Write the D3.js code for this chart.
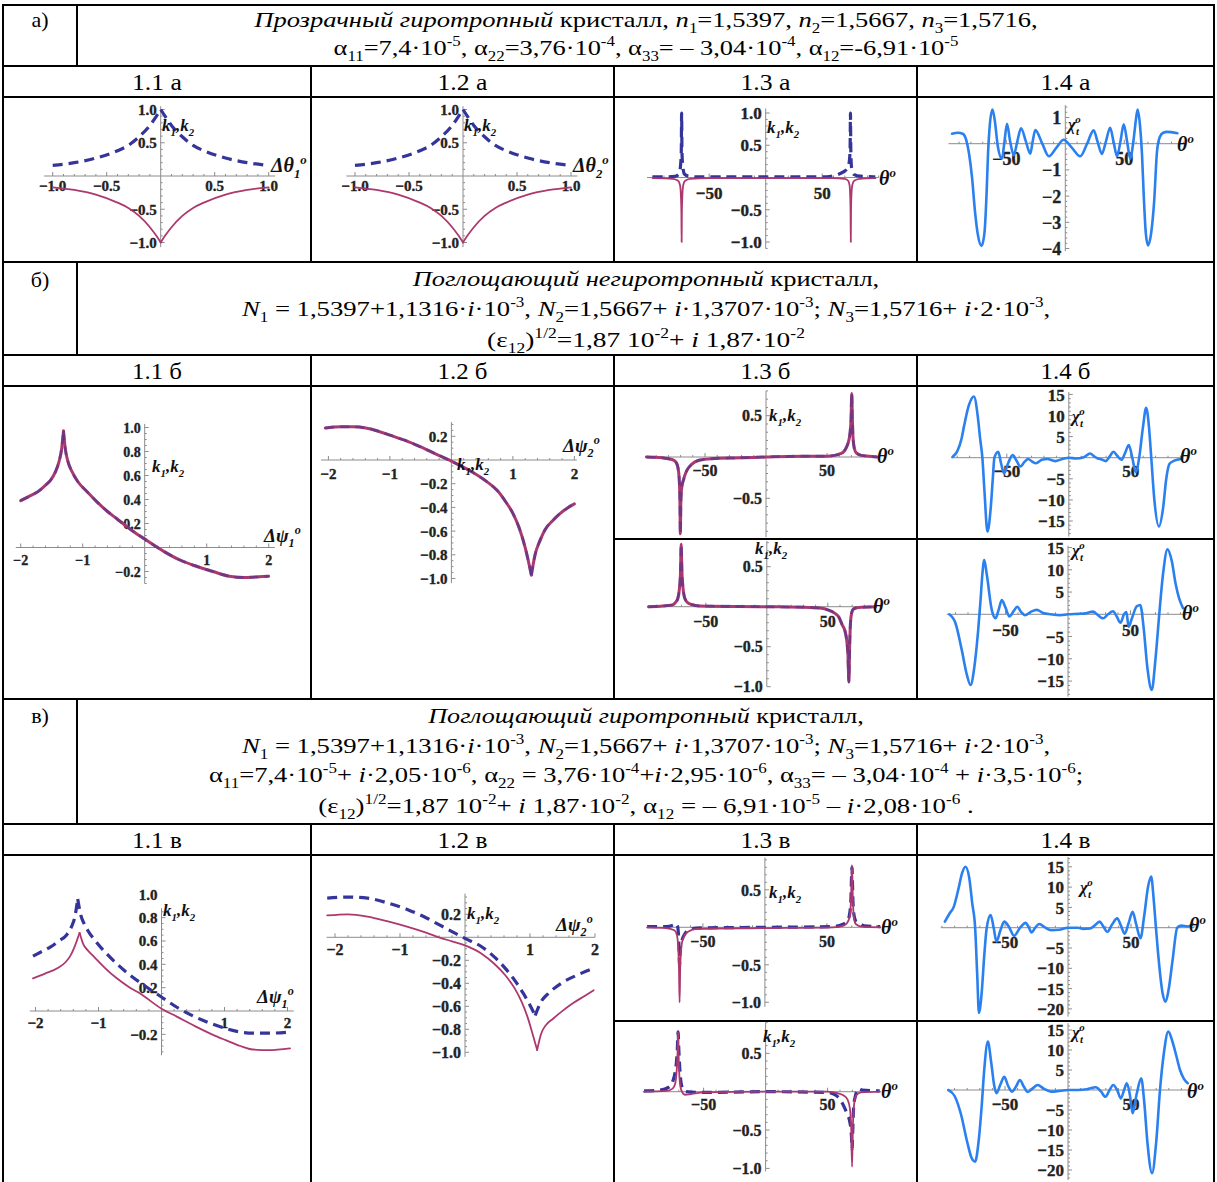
<!DOCTYPE html>
<html><head><meta charset="utf-8">
<script src="https://cdn.jsdelivr.net/npm/d3@7"></script>
<style>body{margin:0;background:#fff}svg{display:block}text{font-family:"Liberation Serif","Times New Roman",serif;white-space:pre}</style>
</head><body><script>
// ---------------- DATA ----------------
const rowLabels = ['а)', 'б)', 'в)'];
const colLabels = [['1.1 а','1.2 а','1.3 а','1.4 а'],['1.1 б','1.2 б','1.3 б','1.4 б'],['1.1 в','1.2 в','1.3 в','1.4 в']];
const headA = ['*Прозрачный гиротропный* кристалл, *n*_{1}=1,5397, *n*_{2}=1,5667, *n*_{3}=1,5716,',
  'α_{11}=7,4·10^{-5}, α_{22}=3,76·10^{-4}, α_{33}= – 3,04·10^{-4}, α_{12}=-6,91·10^{-5}'];
const headB = ['*Поглощающий негиротропный* кристалл,',
  '*N*_{1} = 1,5397+1,1316·*i*·10^{-3}, *N*_{2}=1,5667+ *i*·1,3707·10^{-3}; *N*_{3}=1,5716+ *i*·2·10^{-3},',
  '(ε_{12})^{1/2}=1,87 10^{-2}+ *i* 1,87·10^{-2}'];
const headV = ['*Поглощающий гиротропный* кристалл,',
  '*N*_{1} = 1,5397+1,1316·*i*·10^{-3}, *N*_{2}=1,5667+ *i*·1,3707·10^{-3}; *N*_{3}=1,5716+ *i*·2·10^{-3},',
  'α_{11}=7,4·10^{-5}+ *i*·2,05·10^{-6}, α_{22} = 3,76·10^{-4}+*i*·2,95·10^{-6}, α_{33}= – 3,04·10^{-4} + *i*·3,5·10^{-6};',
  '(ε_{12})^{1/2}=1,87 10^{-2}+ *i* 1,87·10^{-2}, α_{12} = – 6,91·10^{-5} – *i*·2,08·10^{-6} .'];

const ticksA = [-1, -0.5, 0.5, 1];
const ticksDeg = [-50, 50];
const ticksPsi = [-2, -1, 1, 2];
const ticksChiA = [-4, -3, -2, -1, 1];
const ticksChi15 = [-15, -10, -5, 5, 10, 15];
const ticksChi20 = [-20, -15, -10, -5, 5, 10, 15];
const ticksK11 = [-0.2, 0.2, 0.4, 0.6, 0.8, 1.0];
const ticksK12 = [-1, -0.8, -0.6, -0.4, -0.2, 0.2];
const ticksK13top = [-0.5, 0.5];
const ticksK13 = [-1, -0.5, 0.5];

// 1.1 а / 1.2 а
const k1_11a = [
 [[-1,0.16],[-0.8,0.2],[-0.6,0.27],[-0.4,0.38],[-0.3,0.46],[-0.2,0.59],[-0.1,0.76],[-0.04,0.9],[0,1.0]],
 [[0,1.0],[0.04,0.9],[0.1,0.76],[0.2,0.59],[0.3,0.46],[0.4,0.38],[0.6,0.27],[0.8,0.2],[1,0.16]]];
const k2_11a = [
 [[-1,-0.17],[-0.8,-0.21],[-0.6,-0.28],[-0.4,-0.4],[-0.3,-0.48],[-0.2,-0.6],[-0.1,-0.77],[-0.04,-0.9],[0,-1.0]],
 [[0,-1.0],[0.04,-0.9],[0.1,-0.77],[0.2,-0.6],[0.3,-0.48],[0.4,-0.4],[0.6,-0.28],[0.8,-0.21],[1,-0.17]]];
// 1.3 а
const k1_13a = [[-100,0.01],[-88,0.01],[-80,0.02],[-77,0.05],[-75.8,0.12],[-75.2,0.22],[-74.7,0.4],[-74.4,1.0],[-74.1,0.4],[-73.6,0.22],[-73,0.12],[-71.8,0.05],[-68,0.02],[-60,0.01],[0,0.01],[50,0.01],[58,0.02],[63,0.04],[67,0.07],[70,0.1],[72.5,0.15],[74,0.25],[74.7,0.45],[75,1.0],[75.3,0.45],[76,0.15],[78,0.05],[84,0.02],[97,0.01]];
const k2_13a = [[-100,-0.01],[-82,-0.02],[-77.5,-0.05],[-75.8,-0.12],[-75,-0.3],[-74.6,-0.55],[-74.4,-1.0],[-74.2,-0.55],[-73.8,-0.3],[-73,-0.12],[-71.3,-0.05],[-67,-0.02],[-50,-0.01],[0,-0.01],[60,-0.01],[70,-0.02],[73,-0.05],[74.2,-0.12],[74.8,-0.3],[75.1,-0.55],[75.3,-1.0],[75.5,-0.55],[75.8,-0.3],[76.6,-0.12],[78.3,-0.05],[83,-0.02],[97,-0.01]];
// 1.4 а
const chi_14a = [[-96,0.38],[-91,0.42],[-87,0.38],[-84,0.15],[-81.5,-0.4],[-79,-1.3],[-76.5,-2.6],[-74,-3.5],[-71,-3.9],[-68.5,-3.4],[-66.8,-2.0],[-65.5,-0.4],[-64,0.7],[-61.7,1.3],[-59.5,0.8],[-57.5,0],[-53.7,-0.57],[-51.5,0.1],[-49.4,0.76],[-46.8,0.1],[-43.7,-0.44],[-40.6,0.1],[-37.5,0.59],[-33.5,0.1],[-29.7,-0.38],[-27.6,0.1],[-25.4,0.52],[-19.5,0],[-14,-0.48],[-7.5,-0.15],[-1.4,0.15],[5.5,-0.15],[12.7,-0.48],[18.5,0],[24,0.51],[27.5,0.05],[31,-0.39],[34.5,0.1],[38,0.61],[41,0.05],[43.8,-0.48],[46.8,0.1],[49.5,0.74],[52.5,0.05],[55,-0.57],[58,0.2],[59.8,0.9],[61.3,1.3],[63.3,0.7],[65,-0.4],[66.5,-2.0],[68.2,-3.4],[70.1,-3.88],[72.8,-3.4],[75.3,-2.2],[77.7,-0.3],[80,0.25],[83,0.42],[86,0.45],[95,0.4]];
// 1.1 б (k1 and k2 coincide)
const k_11b = [
 [[-2,0.39],[-1.85,0.43],[-1.71,0.47],[-1.6,0.52],[-1.52,0.56],[-1.44,0.63],[-1.38,0.72],[-1.34,0.82],[-1.31,0.97]],
 [[-1.31,0.97],[-1.28,0.82],[-1.24,0.72],[-1.17,0.63],[-1.08,0.55],[-0.92,0.46],[-0.77,0.38],[-0.6,0.3],[-0.45,0.24],[-0.2,0.14],[0,0.07],[0.3,-0.03],[0.55,-0.1],[0.8,-0.15],[1.1,-0.2],[1.37,-0.24],[1.6,-0.25],[1.8,-0.245],[2,-0.24]]];
// 1.2 б
const k_12b = [
 [[-2.05,0.27],[-1.8,0.28],[-1.6,0.28],[-1.39,0.27],[-1.2,0.245],[-1.0,0.21],[-0.75,0.165],[-0.5,0.11],[-0.25,0.05],[0,-0.01],[0.3,-0.09],[0.57,-0.18],[0.75,-0.26],[0.88,-0.35],[1.0,-0.45],[1.1,-0.57],[1.2,-0.74],[1.3,-0.97]],
 [[1.3,-0.97],[1.36,-0.8],[1.44,-0.68],[1.52,-0.59],[1.65,-0.51],[1.77,-0.45],[1.9,-0.4],[2.0,-0.37]]];
// 1.3 б
const k_13b_top = [[-98,0],[-85,-0.01],[-77,-0.03],[-74,-0.06],[-72.3,-0.12],[-71.2,-0.25],[-70.6,-0.5],[-70.2,-0.93],[-69.8,-0.55],[-69,-0.36],[-67.5,-0.27],[-66,-0.2],[-64.4,-0.15],[-61,-0.09],[-55,-0.04],[-45,-0.02],[-20,-0.01],[0,0],[30,0.01],[50,0.01],[56,0.02],[61,0.04],[64,0.07],[66,0.12],[67.5,0.18],[68.8,0.28],[69.7,0.45],[70.3,0.77],[70.8,0.45],[71.5,0.2],[72.5,0.1],[74,0.05],[78,0.02],[85,0.01],[91,0]];
const k_13b_bot = [[-97,0],[-85,0.01],[-78,0.02],[-75,0.05],[-73,0.1],[-71.8,0.2],[-70.8,0.4],[-70.2,0.78],[-69.6,0.45],[-68.8,0.25],[-67.5,0.12],[-65.5,0.06],[-62,0.03],[-55,0.01],[0,0],[35,-0.01],[45,-0.02],[50,-0.04],[55.5,-0.08],[59,-0.13],[61.9,-0.23],[64,-0.3],[65.5,-0.42],[66.5,-0.6],[67.3,-0.94],[67.9,-0.5],[68.6,-0.2],[69.5,-0.08],[71,-0.03],[75,-0.01],[89,0]];
// 1.4 б
const chi_14b_top = [[-93.7,0.2],[-90,1.5],[-86.5,4.5],[-84.4,7.6],[-80.5,12.5],[-76.5,14.5],[-73.5,10],[-71.5,4.5],[-69.7,0],[-68,-8],[-65.6,-17.5],[-63,-12],[-61.3,-5],[-60,0],[-56.9,1.4],[-54.5,-1.5],[-52.2,-3.7],[-48.8,-1.2],[-45.3,0.6],[-42,-0.8],[-39,-2.1],[-35.8,-1.0],[-32.8,-0.3],[-29.6,-0.9],[-26.5,-1.3],[-21.8,-0.5],[-17.2,-0.3],[-11,-0.8],[-5,-0.3],[0,0],[6,-0.2],[12,0.1],[17.2,1.0],[20.5,0.3],[23.4,-0.2],[26.5,-0.4],[29.7,-0.8],[33,0.3],[36,1.4],[39.2,0.4],[42.4,-0.5],[45.5,1.2],[48.4,3.0],[51.2,0],[54,-3.4],[57,0.5],[59.7,7],[62.4,11.8],[64.6,7.5],[66.5,0],[69,-10],[72.7,-16.3],[76,-12],[78.6,-5],[81.1,-1.5],[85,-0.7],[90.5,-0.3]];
const chi_14b_bot = [[-95,0],[-90,-2],[-85,-8],[-81,-13.5],[-78,-15.9],[-75,-12],[-72,-4],[-70,3],[-68.5,9],[-67,12.2],[-65,9],[-61,1],[-58,-0.9],[-55.5,1],[-53,3.2],[-50,1.5],[-46.9,-0.5],[-43.5,0.7],[-40.6,1.7],[-37.5,0.5],[-34.4,-0.2],[-29.5,0.6],[-25,1.0],[-20,0.3],[-14,0],[-6,-0.2],[0,0],[8,0.1],[14,0.2],[20,0.6],[24,-0.2],[28,-0.9],[32,0],[36,0.7],[39,-0.5],[42,-1.9],[44.8,0],[46.7,0.5],[48.5,-2.8],[51,-1],[55,1.8],[57.8,2.1],[60.5,-3],[63.5,-12],[67,-17],[70,-10],[73,0],[76,9],[79.6,14.6],[83,12],[86,7],[88.9,3.6],[92,1.4]];
// 1.1 в
const k1_11v = [
 [[-2.04,0.47],[-1.9,0.51],[-1.76,0.55],[-1.63,0.6],[-1.51,0.65],[-1.43,0.72],[-1.37,0.82],[-1.33,0.96]],
 [[-1.33,0.96],[-1.28,0.82],[-1.23,0.75],[-1.17,0.69],[-1.05,0.6],[-0.87,0.49],[-0.7,0.4],[-0.53,0.32],[-0.25,0.21],[0,0.12],[0.25,0.03],[0.53,-0.05],[0.8,-0.11],[1.02,-0.15],[1.25,-0.18],[1.45,-0.19],[1.7,-0.19],[2.04,-0.18]]];
const k2_11v = [
 [[-2.04,0.28],[-1.85,0.32],[-1.64,0.37],[-1.52,0.42],[-1.45,0.47],[-1.38,0.55],[-1.3,0.67]],
 [[-1.3,0.67],[-1.24,0.57],[-1.17,0.52],[-1.08,0.47],[-0.9,0.37],[-0.71,0.28],[-0.5,0.2],[-0.34,0.15],[0,0.02],[0.25,-0.05],[0.53,-0.13],[0.8,-0.2],[1.02,-0.25],[1.25,-0.3],[1.45,-0.33],[1.7,-0.335],[2.04,-0.32]]];
// 1.2 в
const k1_12v = [
 [[-2.12,0.34],[-1.8,0.35],[-1.5,0.34],[-1.2,0.3],[-0.88,0.24],[-0.6,0.17],[-0.4,0.11],[-0.2,0.05],[0,-0.01],[0.25,-0.08],[0.45,-0.17],[0.62,-0.27],[0.76,-0.37],[0.9,-0.49],[1.0,-0.59],[1.08,-0.68]],
 [[1.08,-0.68],[1.16,-0.57],[1.28,-0.49],[1.48,-0.4],[1.72,-0.33],[1.98,-0.27]]];
const k2_12v = [
 [[-2.12,0.19],[-1.8,0.2],[-1.5,0.18],[-1.2,0.14],[-0.88,0.09],[-0.6,0.04],[-0.4,0.0],[-0.2,-0.035],[0,-0.07],[0.25,-0.14],[0.45,-0.23],[0.62,-0.33],[0.76,-0.44],[0.87,-0.56],[0.96,-0.69],[1.04,-0.84],[1.11,-0.98]],
 [[1.11,-0.98],[1.17,-0.84],[1.25,-0.76],[1.35,-0.71],[1.5,-0.64],[1.67,-0.57],[1.84,-0.51],[1.98,-0.46]]];
// 1.3 в
const k1_13v_top = [[-95,0.01],[-80,0.01],[-74,0.03],[-72,0.05],[-70.5,0.02],[-69.7,-0.1],[-69.2,-0.3],[-68.8,-0.5],[-68.3,-0.3],[-67,-0.18],[-65,-0.1],[-62,-0.04],[-55,-0.01],[0,0],[55,0.01],[63,0.04],[66,0.08],[68,0.15],[69.3,0.35],[70.2,0.8],[71,0.35],[72,0.15],[73.5,0.08],[76,0.06],[80,0.02],[93,0.01]];
const k2_13v_top = [[-95,0],[-80,-0.01],[-73,-0.04],[-71,-0.1],[-70,-0.25],[-69.3,-0.55],[-68.8,-1.0],[-68.3,-0.55],[-67.3,-0.25],[-65.5,-0.13],[-62,-0.06],[-55,-0.02],[0,-0.01],[55,0],[63,0.02],[66,0.05],[68.5,0.15],[69.5,0.4],[70.2,0.83],[70.9,0.4],[71.8,0.12],[73.5,0.04],[78,0.01],[93,0]];
const k1_13v_bot = [[-98,0.01],[-85,0.02],[-78,0.06],[-75,0.13],[-73,0.25],[-72,0.37],[-71.2,0.55],[-70.6,0.78],[-70,0.55],[-69.2,0.3],[-68,0.1],[-66,0.02],[-64,0.0],[-55,-0.01],[0,0],[50,-0.01],[57,-0.05],[60,-0.1],[61.9,-0.15],[64,-0.22],[66,-0.3],[68,-0.4],[69.3,-0.6],[69.7,-0.75],[70.3,-0.5],[71,-0.2],[72.5,-0.05],[75,0.04],[78,0.02],[92,0.01]];
const k2_13v_bot = [[-98,0],[-80,0.01],[-75,0.04],[-73,0.1],[-71.8,0.25],[-71,0.5],[-70.6,0.78],[-70.1,0.45],[-69.3,0.15],[-68,0.02],[-65,-0.04],[-60,-0.03],[-50,-0.01],[0,0],[50,0],[58,-0.02],[63,-0.05],[66,-0.1],[68,-0.22],[69,-0.45],[69.7,-0.98],[70.4,-0.45],[71.5,-0.15],[73,-0.05],[77,-0.01],[92,0]];
// 1.4 в
const chi_14v_top = [[-97.7,1.5],[-94,3.5],[-90.6,5.2],[-87,9.5],[-84,13.5],[-81.4,15],[-78.5,12.5],[-76,6],[-73.7,0],[-72,-12],[-70.7,-21],[-68.5,-16],[-66.5,-7],[-64.5,0],[-61.4,3.1],[-59,0],[-56.8,-3.4],[-53.5,-0.5],[-50.6,1.5],[-46.5,0],[-42.9,-2.0],[-38,0],[-33.7,1.2],[-31,0],[-29,-1.2],[-26,0],[-22.9,0.9],[-18,0],[-13.5,-0.6],[-7,-0.5],[0,0],[8,0],[12,-0.3],[17.5,-0.2],[21,0.5],[25.2,1.5],[28,0.3],[31.3,-1.0],[35,0.8],[39,2.3],[42,0.5],[45,-1.5],[48,1],[51.3,3.9],[54,1],[57.5,-2.6],[60.5,3],[63.5,10],[66,12.6],[68,7],[69.8,0],[72,-8],[75,-16],[77.5,-18.2],[80,-15],[83,-8],[86.7,0],[90,0.5],[95,0.3],[99,0.9]];
const chi_14v_bot = [[-95,0],[-90,-1.5],[-85,-6],[-80,-13],[-76.5,-17],[-73.7,-17.9],[-71,-13],[-68.5,-4],[-66.5,5],[-63.6,12.1],[-61,7],[-58.5,1],[-56.8,-0.8],[-53.5,1.5],[-50.6,3.3],[-47.5,1],[-44.4,-0.4],[-41,1],[-38.2,2.5],[-35,0.8],[-32,-0.5],[-28,0.4],[-24.2,1.25],[-19,0.3],[-13.5,-0.4],[-6,-0.2],[0,0],[8,0],[15,0.2],[22,0.7],[26,-0.3],[29.7,-1.7],[33,0],[35.9,1.25],[39,0],[42,-2.1],[44.5,0],[46.7,1.7],[49,-1],[51.3,-5.8],[54.5,-1],[58.1,2.9],[60.5,-3],[63,-13],[66.7,-20.8],[70,-13],[73,0],[76,9],[79.6,14.6],[83,12],[86,8.5],[88.9,5],[92,2.8],[95,1.7]];

// ---------------- STYLES / LAYOUT ----------------
const DASH = '#34349a', SOLID = '#ad386e', BLUE = '#2b80f0', AXIS = '#8c8c8c';
const dashS = d => ({data:d, color:DASH, w:3.2, dash:'10,6'});
const solidS = d => ({data:d, color:SOLID, w:1.8});
const overlayS = d => [{data:d, color:SOLID, w:3}, {data:d, color:DASH, w:3, dash:'9,6', op:0.45}];
const blueS = d => ({data:d, color:BLUE, w:2.6});

const W = 1217, H = 1182;
const svg = d3.select('body').append('svg').attr('width', W).attr('height', H);

// rich text with *italic*, _{sub}, ^{sup}
function rich(parent, str, o) {
  const t = parent.append('text').attr('x', o.x).attr('y', o.y).attr('font-size', o.size)
    .attr('text-anchor', o.anchor || 'start').attr('fill', o.fill || '#000');
  if (o.bold) t.attr('font-weight', 'bold');
  const toks = []; let it = false;
  for (let i = 0; i < str.length;) {
    const c = str[i];
    if (c === '*') { it = !it; i++; continue; }
    if ((c === '_' || c === '^') && str[i + 1] === '{') {
      const j = str.indexOf('}', i);
      toks.push({t: str.slice(i + 2, j), it, pos: c === '_' ? 1 : -1, stack: o.stack && c === '^' && str[i - 1] === '}'});
      i = j + 1; continue;
    }
    const last = toks[toks.length - 1];
    if (last && last.pos === 0 && last.it === it) last.t += c; else toks.push({t: c, it, pos: 0});
    i++;
  }
  let cur = 0;
  toks.forEach(k => {
    const fs = k.pos ? o.size * 0.64 : o.size;
    const off = k.pos === 1 ? o.size * 0.28 : k.pos === -1 ? -o.size * 0.42 : 0;
    const ts = t.append('tspan').text(k.t).attr('font-size', fs).attr('dy', off - cur);
    if (k.it || o.italic) ts.attr('font-style', 'italic');
    if (k.stack) ts.attr('dx', -o.size * 0.22);
    cur = off;
  });
  return t;
}
function stretch(t, cx, target) {
  const bw = t.node().getBBox().width;
  const s = target / bw;
  t.attr('transform', `translate(${cx},0) scale(${s},1) translate(${-cx},0)`);
}

// ---------------- TABLE ----------------
const TL = 3, TR = 1214, CX = [3, 311, 614, 917, 1214];
const hFull = [5, 66, 97, 262, 355, 386, 699, 824, 855];
const hPart = [539, 1021];
const vSegs = [[77, 5, 66], [77, 262, 355], [77, 699, 824]];
[311, 614, 917].forEach(x => { vSegs.push([x, 66, 262], [x, 355, 699], [x, 824, 1182]); });
vSegs.push([TL, 5, 1182], [TR, 5, 1182]);
const grid = svg.append('g').attr('stroke', '#000').attr('stroke-width', 2);
grid.selectAll(null).data(hFull).join('line').attr('x1', TL - 1).attr('x2', TR + 1).attr('y1', d => d).attr('y2', d => d);
grid.selectAll(null).data(hPart).join('line').attr('x1', 614).attr('x2', TR + 1).attr('y1', d => d).attr('y2', d => d);
grid.selectAll(null).data(vSegs).join('line').attr('x1', d => d[0]).attr('x2', d => d[0]).attr('y1', d => d[1]).attr('y2', d => d[2]);

const hdr = svg.append('g');
const rowLabelY = [27, 287, 723];
rowLabels.forEach((s, i) => hdr.append('text').attr('x', 40).attr('y', rowLabelY[i]).attr('text-anchor', 'middle').attr('font-size', 22).text(s));
const colLabelY = [90, 379, 848];
colLabels.forEach((row, r) => row.forEach((s, c) => {
  const cx = (CX[c] + CX[c + 1]) / 2;
  const t = hdr.append('text').attr('x', cx).attr('y', colLabelY[r]).attr('text-anchor', 'middle').attr('font-size', 23).text(s);
  stretch(t, cx, 50);
}));

const headLines = [
  {s: headA[0], y: 27, w: 785}, {s: headA[1], y: 55, w: 625},
  {s: headB[0], y: 286, w: 468}, {s: headB[1], y: 316, w: 810}, {s: headB[2], y: 347, w: 318},
  {s: headV[0], y: 723, w: 437}, {s: headV[1], y: 753, w: 810}, {s: headV[2], y: 782, w: 875}, {s: headV[3], y: 813, w: 656}];
const HCX = 646;
headLines.forEach(h => stretch(rich(hdr, h.s, {x: HCX, y: h.y, size: 22, anchor: 'middle'}), HCX, h.w));

// ---------------- PLOTS ----------------
const kLab = 'k_{1},k_{2}', thLab = 'θ^{o}', chiLab = 'χ_{t}^{o}';
const plots = [
 {ax:160.7, ay:176, kx:108, ky:66.5, xExt:[-1.08,1.06], yExt:[-1.07,1.05], xT:ticksA, yT:ticksA, xm:0.1, ym:0.1, dx:1, dy:1, fs:15, xl:15,
  series:[dashS(k1_11a), solidS(k2_11a)], labels:[{s:kLab,x:162,y:131,size:17},{s:'Δθ_{1}^{o}',x:271,y:172,size:20}]},
 {ax:463, ay:176, kx:108, ky:66.5, xExt:[-1.08,1.06], yExt:[-1.07,1.05], xT:ticksA, yT:ticksA, xm:0.1, ym:0.1, dx:1, dy:1, fs:15, xl:15,
  series:[dashS(k1_11a), solidS(k2_11a)], labels:[{s:kLab,x:464,y:131,size:17},{s:'Δθ_{2}^{o}',x:573,y:172,size:20}]},
 {ax:765.7, ay:177.5, kx:1.13, ky:64.5, xExt:[-105,100], yExt:[-1.1,1.07], xT:ticksDeg, yT:ticksA, xm:10, ym:0.1, dx:0, dy:1, fs:17, xl:21,
  series:[dashS(k1_13a), solidS(k2_13a)], labels:[{s:kLab,x:767,y:133,size:17},{s:thLab,x:879,y:185,size:20}]},
 {ax:1065.3, ay:143.7, kx:1.18, ky:26.2, xExt:[-99,100], yExt:[-4.1,1.47], xT:ticksDeg, yT:ticksChiA, xm:10, ym:0.2, dx:0, dy:0, fs:18, xl:21,
  series:[blueS(chi_14a)], labels:[{s:chiLab,x:1068,y:130,size:17,stack:true},{s:thLab,x:1177,y:151,size:20}]},
 {ax:144.7, ay:547.5, kx:62, ky:120, xExt:[-2.08,2.1], yExt:[-0.3,1.03], xT:ticksPsi, yT:ticksK11, xm:0.2, ym:0.05, dx:0, dy:1, fs:14, xl:17,
  series:overlayS(k_11b), labels:[{s:kLab,x:152,y:472,size:17},{s:'Δψ_{1}^{o}',x:264,y:542,size:19}]},
 {ax:451.4, ay:460, kx:61.5, ky:118.5, xExt:[-2.12,2.04], yExt:[-1.04,0.32], xT:ticksPsi, yT:ticksK12, xm:0.2, ym:0.05, dx:0, dy:1, fs:15, xl:19,
  series:overlayS(k_12b), labels:[{s:kLab,x:457,y:470,size:17},{s:'Δψ_{2}^{o}',x:563,y:452,size:19}]},
 {ax:766, ay:457, kx:1.22, ky:82.6, xExt:[-98,91], yExt:[-0.97,0.8], xT:ticksDeg, yT:ticksK13top, xm:10, ym:0.1, dx:0, dy:1, fs:16, xl:19,
  series:overlayS(k_13b_top), labels:[{s:kLab,x:769,y:421,size:17},{s:thLab,x:877,y:463,size:20}]},
 {ax:766.8, ay:606.7, kx:1.22, ky:80, xExt:[-97.5,90], yExt:[-1.0,0.82], xT:ticksDeg, yT:ticksK13, xm:10, ym:0.1, dx:0, dy:1, fs:16, xl:20.5,
  series:overlayS(k_13b_bot), labels:[{s:kLab,x:755,y:554,size:17},{s:thLab,x:873,y:613,size:20}]},
 {ax:1068.8, ay:457.7, kx:1.24, ky:4.22, xExt:[-95,92], yExt:[-18.7,15.6], xT:ticksDeg, yT:ticksChi15, xm:10, ym:1, dx:0, dy:0, fs:17, xl:19.5,
  series:[blueS(chi_14b_top)], labels:[{s:chiLab,x:1072,y:422,size:17,stack:true},{s:thLab,x:1180,y:463,size:20}]},
 {ax:1068, ay:614.3, kx:1.25, ky:4.45, xExt:[-97,95], yExt:[-18.5,15.4], xT:ticksDeg, yT:ticksChi15, xm:10, ym:1, dx:0, dy:0, fs:17, xl:22,
  series:[blueS(chi_14b_bot)], labels:[{s:chiLab,x:1072,y:556,size:17,stack:true},{s:thLab,x:1182,y:620,size:20}]},
 {ax:161.5, ay:1011, kx:63, ky:116.7, xExt:[-2.09,2.1], yExt:[-0.38,0.88], xT:ticksPsi, yT:ticksK11, xm:0.2, ym:0.05, dx:0, dy:1, fs:15, xl:17,
  series:[dashS(k1_11v), solidS(k2_11v)], labels:[{s:kLab,x:163,y:916,size:17},{s:'Δψ_{1}^{o}',x:257,y:1003,size:19}]},
 {ax:465, ay:937.3, kx:65, ky:115, xExt:[-2.13,2.0], yExt:[-1.04,0.38], xT:ticksPsi, yT:ticksK12, xm:0.2, ym:0.05, dx:0, dy:1, fs:16, xl:17.5,
  series:[dashS(k1_12v), solidS(k2_12v)], labels:[{s:kLab,x:467,y:919,size:17},{s:'Δψ_{2}^{o}',x:556,y:931,size:19}]},
 {ax:764.9, ay:927.3, kx:1.24, ky:75, xExt:[-95,93.6], yExt:[-1.06,0.93], xT:ticksDeg, yT:ticksK13, xm:10, ym:0.1, dx:0, dy:1, fs:16, xl:19.5,
  series:[dashS(k1_13v_top), solidS(k2_13v_top)], labels:[{s:kLab,x:769,y:898,size:17},{s:thLab,x:881,y:934,size:20}]},
 {ax:765.6, ay:1091.7, kx:1.24, ky:76.7, xExt:[-99,93], yExt:[-1.04,0.9], xT:ticksDeg, yT:ticksK13, xm:10, ym:0.1, dx:0, dy:1, fs:16, xl:18.5,
  series:[dashS(k1_13v_bot), solidS(k2_13v_bot)], labels:[{s:kLab,x:763,y:1042,size:17},{s:thLab,x:881,y:1098,size:20}]},
 {ax:1068, ay:927.7, kx:1.26, ky:4.06, xExt:[-101,100], yExt:[-21.9,17.4], xT:ticksDeg, yT:ticksChi20, xm:10, ym:1, dx:0, dy:0, fs:17, xl:20.5,
  series:[blueS(chi_14v_top)], labels:[{s:chiLab,x:1080,y:893,size:17,stack:true},{s:thLab,x:1189,y:932,size:20}]},
 {ax:1068, ay:1090, kx:1.26, ky:4.0, xExt:[-96,97], yExt:[-22.5,16.7], xT:ticksDeg, yT:ticksChi20, xm:10, ym:1, dx:0, dy:0, fs:17, xl:20,
  series:[blueS(chi_14v_bot)], labels:[{s:chiLab,x:1072,y:1038,size:17,stack:true},{s:thLab,x:1187,y:1098,size:20}]}
];

const fmt = (v, d) => (v < 0 ? '−' : '') + Math.abs(v).toFixed(d);
const steps = (ext, st) => d3.range(Math.ceil(ext[0] / st - 1e-9), Math.floor(ext[1] / st + 1e-9) + 1)
  .map(k => +(k * st).toFixed(6)).filter(v => v !== 0);
const isMaj = (v, arr) => arr.some(a => Math.abs(a - v) < 1e-6);

function drawPlot(p) {
  const g = svg.append('g');
  const x = d3.scaleLinear().domain(p.xExt).range(p.xExt.map(v => p.ax + v * p.kx));
  const y = d3.scaleLinear().domain(p.yExt).range(p.yExt.map(v => p.ay - v * p.ky));
  const ga = g.append('g').attr('stroke', AXIS).attr('stroke-width', 1);
  ga.append('line').attr('x1', x(p.xExt[0])).attr('x2', x(p.xExt[1])).attr('y1', y(0)).attr('y2', y(0));
  ga.append('line').attr('x1', x(0)).attr('x2', x(0)).attr('y1', y(p.yExt[0])).attr('y2', y(p.yExt[1]));
  ga.selectAll(null).data(steps(p.xExt, p.xm)).join('line')
    .attr('x1', d => x(d)).attr('x2', d => x(d)).attr('y1', y(0)).attr('y2', d => y(0) - (isMaj(d, p.xT) ? 4 : 2));
  ga.selectAll(null).data(steps(p.yExt, p.ym)).join('line')
    .attr('y1', d => y(d)).attr('y2', d => y(d)).attr('x1', x(0)).attr('x2', d => x(0) + (isMaj(d, p.yT) ? 4 : 2));
  const gl = g.append('g').attr('font-weight', 'bold').attr('fill', '#222').attr('font-size', p.fs)
    .attr('stroke', '#222').attr('stroke-width', 0.35);
  gl.selectAll(null).data(p.xT).join('text').attr('x', d => x(d)).attr('y', y(0) + p.xl)
    .attr('text-anchor', 'middle').text(d => fmt(d, p.dx));
  gl.selectAll(null).data(p.yT).join('text').attr('x', x(0) - 4).attr('y', d => y(d) + p.fs * 0.36)
    .attr('text-anchor', 'end').text(d => fmt(d, p.dy));
  const line = d3.line().x(d => x(d[0])).y(d => y(d[1])).curve(d3.curveMonotoneX);
  p.series.forEach(s => {
    const segs = Array.isArray(s.data[0][0]) ? s.data : [s.data];
    segs.forEach(seg => g.append('path').attr('d', line(seg)).attr('fill', 'none').attr('stroke', s.color)
      .attr('stroke-width', s.w).attr('stroke-dasharray', s.dash || null).attr('opacity', s.op || 1)
      .attr('stroke-linejoin', 'round').attr('stroke-linecap', s.dash ? 'butt' : 'round'));
  });
  p.labels.forEach(l => rich(g, l.s, {x: l.x, y: l.y, size: l.size, bold: true, italic: true, stack: l.stack, fill: '#111'}));
}
plots.forEach(drawPlot);
</script></body></html>
